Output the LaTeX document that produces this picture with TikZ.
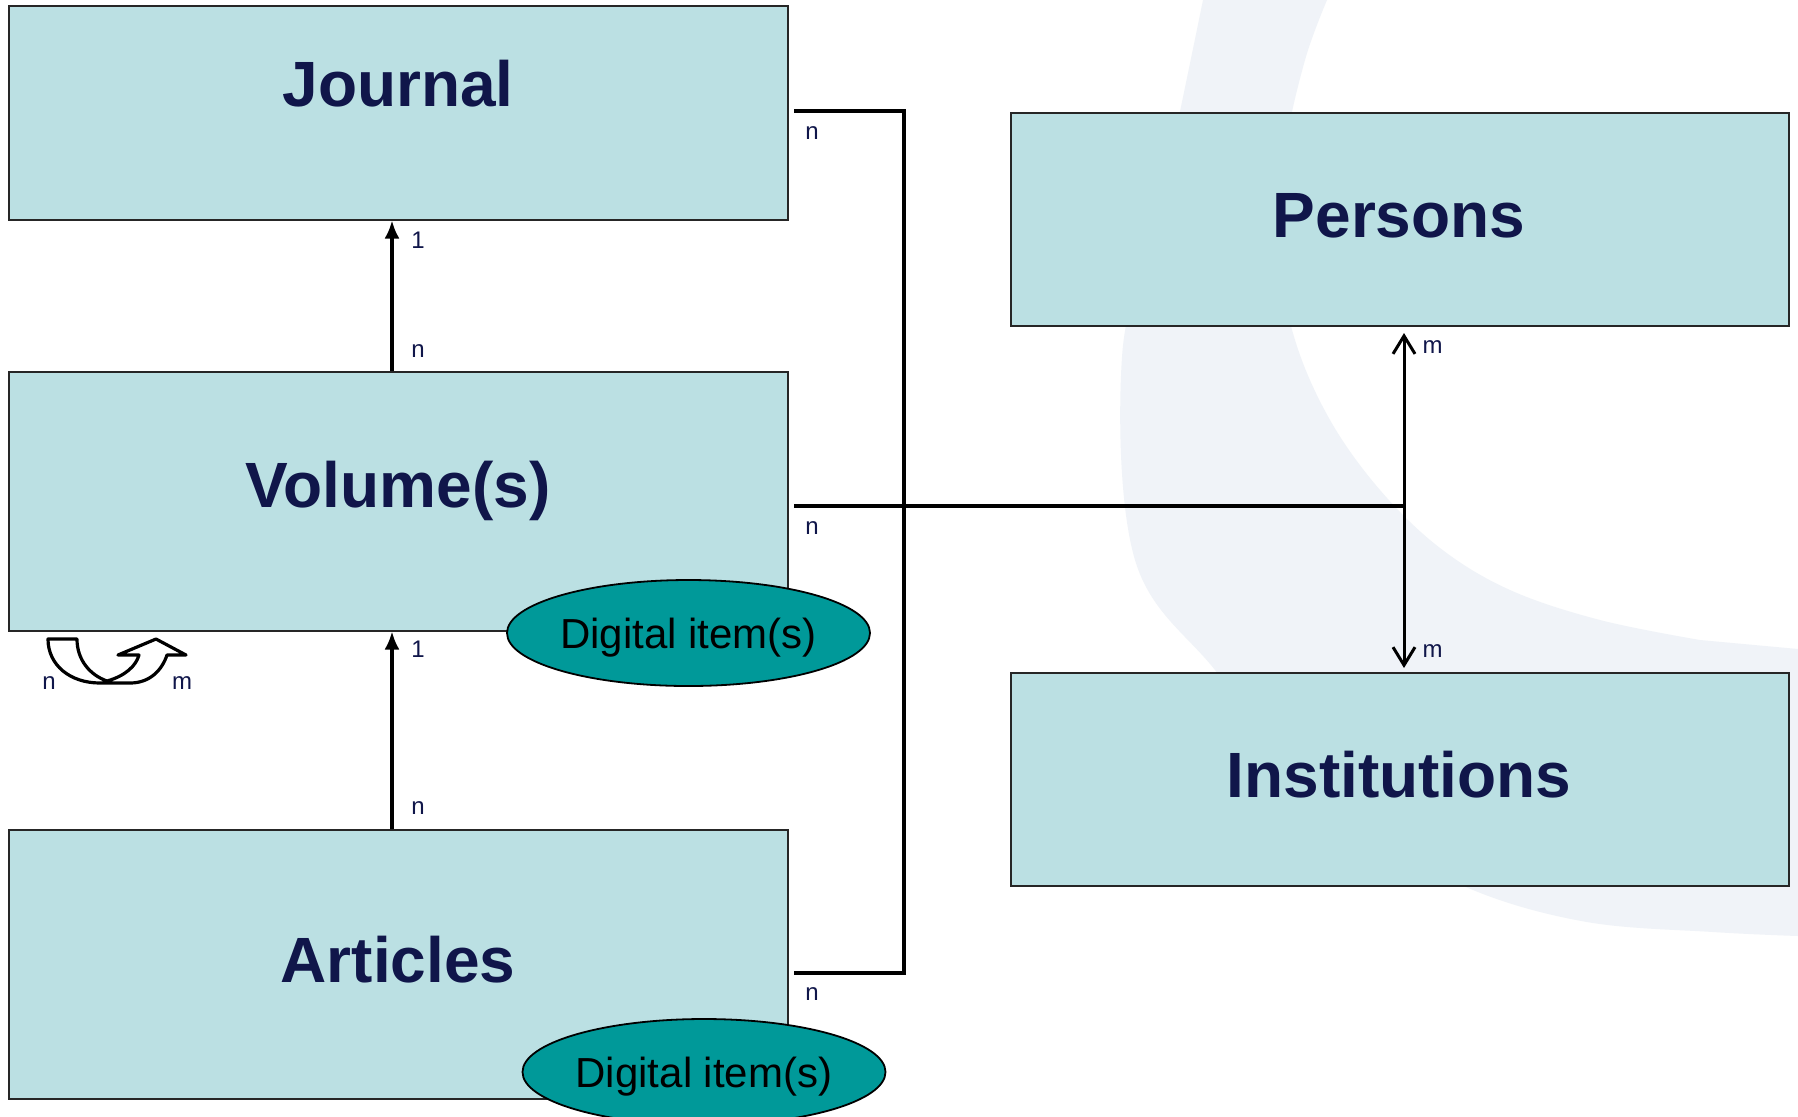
\documentclass[tikz,border=0pt]{standalone}
\usepackage{fontspec}
\setmainfont{Liberation Sans}
\usetikzlibrary{arrows.meta,shapes.geometric}
\definecolor{boxfill}{RGB}{187,224,227}
\definecolor{tealfill}{RGB}{0,153,153}
\definecolor{navy}{RGB}{16,22,74}
\definecolor{wmark}{RGB}{240,243,248}
\begin{document}
\begin{tikzpicture}[x=0.5pt,y=-0.5pt,
  entity/.style={draw=black!85, line width=1pt, fill=boxfill, rectangle, inner sep=0pt, anchor=north west},
  title/.style={font=\bfseries\fontsize{32}{38}\selectfont, text=navy, anchor=base, inner sep=0pt},
  digital/.style={ellipse, draw=black, line width=0.9pt, fill=tealfill, inner sep=0pt,
    minimum width=181pt, minimum height=53pt, font=\fontsize{21}{24}\selectfont,
    text height=15pt, text depth=0pt},
  card/.style={font=\fontsize{12}{14}\selectfont, text=navy, inner sep=0pt},
  link/.style={line width=1.8pt, black},
  uparr/.style={line width=1.6pt, black, -{Latex[length=9pt,width=7.5pt]}},
  dblarr/.style={line width=1.5pt, black, {Straight Barb[length=9pt,width=11pt,line width=1.5pt]}-{Straight Barb[length=9pt,width=11pt,line width=1.5pt]}},
  loopst/.style={draw=black, line width=1.6pt, fill=white, line join=round}]
\useasboundingbox (0,0) rectangle (1798,1116);
\fill[white] (0,0) rectangle (1798,1116);
% watermark crescent
\fill[wmark] plot[smooth, tension=0.6] coordinates {(1203,0) (1158,214) (1122,357) (1135,560) (1215,670) (1300,770) (1376,835) (1473,890) (1587,922) (1713,932) (1798,936)}
  -- (1798,649)
  -- plot[smooth, tension=0.6] coordinates {(1700,640) (1600,620) (1510,590) (1440,548) (1380,490) (1330,420) (1295,340) (1278,250) (1285,150) (1305,60) (1327,0)}
  -- cycle;
% entity boxes
\node[entity, minimum width=389.75pt, minimum height=106.75pt] (journal) at (7.5,5) {};
\node[entity, minimum width=389.75pt, minimum height=129.5pt] (volume) at (7.5,370.5) {};
\node[entity, minimum width=389.75pt, minimum height=134.5pt] (articles) at (7.5,829) {};
\node[entity, minimum width=389pt, minimum height=106.5pt] (persons) at (1009.5,112) {};
\node[entity, minimum width=389pt, minimum height=106.5pt] (institutions) at (1009.5,672) {};
\node[title] (journalT) at (398,106) {Journal};
\node[title] (volumeT) at (398,507) {Volume(s)};
\node[title] (articlesT) at (398,982) {Articles};
\node[title] (personsT) at (1399,237.5) {Persons};
\node[title] (institutionsT) at (1399,797.5) {Institutions};
% digital items
\node[digital] (dig1) at (688.5,633) {Digital item(s)};
\node[digital] (dig2) at (704,1072) {Digital item(s)};
% vertical arrows
\coordinate (vx) at (392,0);
\draw[uparr] (vx |- volume.north) -- (vx |- journal.south);
\draw[uparr] (vx |- articles.north) -- (vx |- volume.south);
% bracket
\coordinate (bx) at (904,0);
\coordinate (px) at (1404,0);
\coordinate (jA) at (794,111);
\coordinate (vA) at (794,506);
\coordinate (aA) at (794,973);
\draw[link] (jA) -- (jA -| bx) -- (aA -| bx) -- (aA);
\draw[link] (vA) -- (vA -| px);
\draw[dblarr, shorten <=3pt, shorten >=2pt] (px |- persons.south) -- (px |- institutions.north);
% self relation arrow
\draw[loopst] (48,639) -- (77,639)
  .. controls (77,660) and (90,675) .. (107,681)
  .. controls (125,676) and (136,666) .. (139,655)
  -- (118,655) -- (156,639) -- (186,655) -- (167,655)
  .. controls (162,670) and (150,683) .. (130,683)
  -- (100,683)
  .. controls (70,683) and (48,665) .. (48,639) -- cycle;
% cardinalities
\node[card] (c1) at (418,240.5) {1};
\node[card] (c2) at (418,351) {n};
\node[card] (c3) at (418,649.5) {1};
\node[card] (c4) at (418,808) {n};
\node[card] (c5) at (812,133) {n};
\node[card] (c6) at (812,528) {n};
\node[card] (c7) at (812,994) {n};
\node[card] (c8) at (1432.5,347) {m};
\node[card] (c9) at (1432.5,651) {m};
\node[card] (c10) at (49,683) {n};
\node[card] (c11) at (182,683) {m};
\end{tikzpicture}
\end{document}
